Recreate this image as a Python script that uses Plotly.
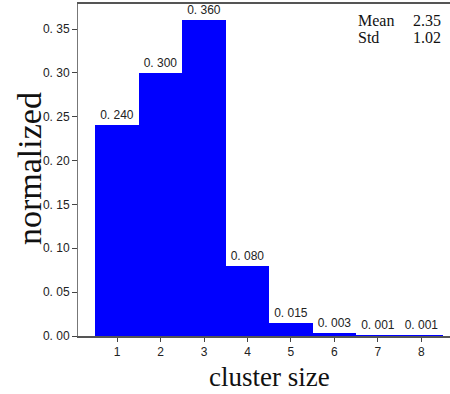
import plotly.graph_objects as go

cluster_size = [1, 2, 3, 4, 5, 6, 7, 8]
normalized = [0.240, 0.300, 0.360, 0.080, 0.015, 0.003, 0.001, 0.001]
y_ticks = [0.00, 0.05, 0.10, 0.15, 0.20, 0.25, 0.30, 0.35]
y_ticktext = ["0. 00", "0. 05", "0. 10", "0. 15", "0. 20", "0. 25", "0. 30", "0. 35"]
stats_names = ["Mean", "Std"]
stats_values = ["2.35", "1.02"]

bar_text = [f"{v:.3f}".replace(".", ". ") for v in normalized]

tick_font = dict(family="Liberation Sans Narrow, Arial Narrow, Liberation Sans, sans-serif",
                 size=12, color="#222")
serif = "Liberation Serif, Times New Roman, serif"

L, R, T, B = 78, 0, 4, 58
W, H = 450, 394
PW, PH = W - L - R, H - T - B


def px_x(x):
    return (x - L) / PW


def px_y(y):
    return 1 - (y - T) / PH


fig = go.Figure(go.Bar(
    x=cluster_size, y=normalized, width=1,
    marker=dict(color="#0000ff", line=dict(width=0)),
    text=bar_text, textposition="outside", textfont=tick_font,
    cliponaxis=False, hoverinfo="skip",
))

fig.update_layout(
    width=W, height=H,
    margin=dict(l=L, r=R, t=T, b=B),
    plot_bgcolor="white", paper_bgcolor="white",
    bargap=0, showlegend=False,
    xaxis=dict(range=[0.1, 8.66], tickvals=cluster_size, ticks="outside", ticklen=4,
               tickcolor="#444", showline=True, linecolor="#555", linewidth=1.5,
               mirror=True, showgrid=False, zeroline=False, tickfont=tick_font,
               automargin=False),
    yaxis=dict(range=[0, 0.3785], tickvals=y_ticks, ticktext=y_ticktext, ticks="outside",
               ticklen=5, tickcolor="#444", showline=True, linecolor="#777", linewidth=1,
               showgrid=False, zeroline=False, tickfont=tick_font, automargin=False),
)

# axis titles
fig.add_annotation(x=px_x(269), y=px_y(377), xref="paper", yref="paper", text="cluster size",
                   showarrow=False, xanchor="center", yanchor="middle",
                   font=dict(family=serif, size=27, color="#111"))
fig.add_annotation(x=px_x(29), y=px_y(169), xref="paper", yref="paper", text="normalized",
                   showarrow=False, xanchor="center", yanchor="middle", textangle=-90,
                   font=dict(family=serif, size=34, color="#111"))

for i, (name, val) in enumerate(zip(stats_names, stats_values)):
    yy = px_y(20 + 18 * i)
    fig.add_annotation(x=px_x(356), y=yy, xref="paper", yref="paper", text=name,
                       showarrow=False, xanchor="left", yanchor="middle",
                       font=dict(family=serif, size=16, color="#111"))
    fig.add_annotation(x=px_x(443), y=yy, xref="paper", yref="paper", text=val,
                       showarrow=False, xanchor="right", yanchor="middle",
                       font=dict(family=serif, size=16, color="#111"))

fig.write_html("out.html", config={"displayModeBar": False},
               post_script="document.body.style.margin='0';document.body.style.overflow='hidden';")
